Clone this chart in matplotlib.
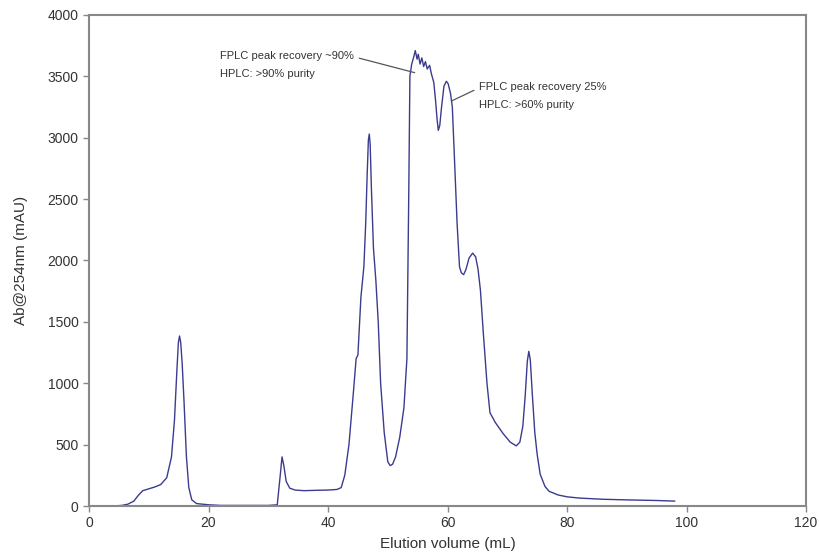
import matplotlib
matplotlib.use("Agg")
import matplotlib.pyplot as plt

plt.rcParams['font.family'] = ['Liberation Sans', 'DejaVu Sans']

# chromatogram trace: elution volume (mL) and absorbance (mAU)
volume = [0, 4, 5.5, 6.5, 7.5, 8.3, 9, 10, 11, 12, 13, 13.8, 14.3, 14.7, 14.95, 15.15,
          15.35, 15.6, 15.9, 16.3, 16.7, 17.2, 18, 20, 22, 30, 31.5, 32.0, 32.3, 32.6, 33.0,
          33.6, 34.5, 36, 38, 40, 41.5, 42.2, 42.8, 43.5, 44.2, 44.7, 45.0, 45.5, 46.0,
          46.3, 46.55, 46.75, 46.9, 47.05, 47.25, 47.6, 48.0, 48.4, 48.8, 49.4, 50.0, 50.4,
          50.8, 51.3, 52.0, 52.7,
          53.2, 53.5, 53.7, 54.0, 54.3, 54.6, 54.9, 55.1, 55.4, 55.7, 56.0, 56.3, 56.6,
          57.0, 57.3, 57.7, 58.0, 58.25, 58.45, 58.7, 59.0, 59.4, 59.8, 60.1, 60.5, 60.8,
          61.1, 61.6, 62.0, 62.3, 62.7, 63.1, 63.6, 64.2, 64.7, 65.1, 65.5, 66.0, 66.6,
          67.1, 68.0, 69.3, 70.5, 71.5, 72.1, 72.6, 73.0, 73.35, 73.6, 73.85, 74.2, 74.6,
          75.0, 75.5, 76.3, 77.0, 78.5, 80, 82, 86, 90, 95, 98]
absorb = [0, 0, 5, 15, 40, 90, 125, 140, 155, 175, 230, 400, 700, 1100, 1330, 1385,
          1330, 1150, 850, 400, 150, 50, 20, 10, 5, 5, 10, 250, 400, 330, 200,
          145, 130, 125, 128, 130, 135, 150, 250, 500, 900, 1200, 1230, 1700, 1950,
          2300, 2700, 2980, 3030, 2950, 2600, 2100, 1840, 1500, 1000, 600, 360, 330,
          340, 400, 560, 800,
          1200, 2500, 3500, 3600, 3650, 3710, 3640, 3680, 3600, 3650, 3580, 3620, 3560,
          3590, 3520, 3450, 3300, 3150, 3060, 3100, 3250, 3420, 3460, 3440, 3360, 3250,
          2900, 2300, 1950, 1900, 1885, 1930, 2020, 2060, 2030, 1930, 1760, 1400, 1000,
          760, 680, 590, 520, 490, 520, 650, 900, 1180, 1260, 1190, 900, 600,
          420, 260, 160, 120, 90, 75, 65, 55, 50, 45, 40]

x_ticks = [0, 20, 40, 60, 80, 100, 120]
y_ticks = [0, 500, 1000, 1500, 2000, 2500, 3000, 3500, 4000]

fig = plt.figure(figsize=(8.19, 5.54), dpi=100)
ax = fig.add_axes([0.1087, 0.0866, 0.8755, 0.8864])

ax.plot(volume, absorb, color='#3b3b8f', linewidth=1.0)

ax.set_xlim(0, 120)
ax.set_ylim(0, 4000)
ax.set_xticks(x_ticks)
ax.set_yticks(y_ticks)
ax.tick_params(direction='out', length=4, width=1, colors='#888888',
               labelcolor='#333333', labelsize=10)
for s in ax.spines.values():
    s.set_color('#888888')
    s.set_linewidth(1.5)

ax.set_xlabel('Elution volume (mL)', fontsize=11, color='#333333', labelpad=5)
ax.set_ylabel('Ab@254nm (mAU)', fontsize=11, color='#333333', labelpad=14)

# callouts
ax.annotate('FPLC peak recovery ~90%\nHPLC: >90% purity', xy=(54.5, 3530), xytext=(21.9, 3593),
            fontsize=8, color='#333333', ha='left', va='center', linespacing=1.9,
            arrowprops=dict(arrowstyle='-', color='#555555', lw=0.9,
                            relpos=(1.0, 0.8), shrinkA=2, shrinkB=0))
ax.annotate('FPLC peak recovery 25%\nHPLC: >60% purity', xy=(60.7, 3300), xytext=(65.3, 3340),
            fontsize=8, color='#333333', ha='left', va='center', linespacing=1.9,
            arrowprops=dict(arrowstyle='-', color='#555555', lw=0.9,
                            relpos=(0.0, 0.8), shrinkA=2, shrinkB=0))

fig.savefig('out.png', dpi=100)
